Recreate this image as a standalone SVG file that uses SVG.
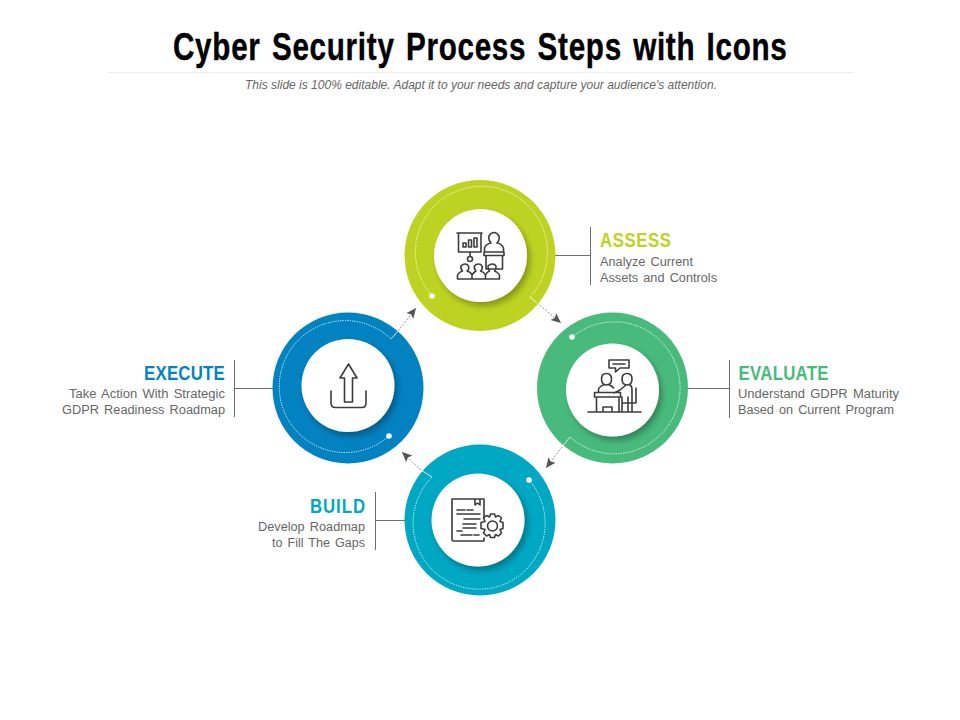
<svg xmlns="http://www.w3.org/2000/svg" width="960" height="720" viewBox="0 0 960 720">
<style>
text{font-family:"Liberation Sans",Arial,sans-serif}
.t{font-weight:700;font-size:38px;word-spacing:3px;stroke:#000;stroke-width:.4px}
.h{font-weight:700;font-size:21px}
.b{font-size:12px;fill:#666;word-spacing:1.5px}
.lead{stroke:#6d6d6d;stroke-width:1;fill:none}
.dot{fill:none;stroke:#fff;stroke-width:1;stroke-dasharray:1.2 1.2;opacity:.9}
.tick{fill:none;stroke:#fff;stroke-width:.8}
.arr{fill:none;stroke:#777;stroke-width:.8;stroke-dasharray:2 1.5;marker-end:url(#ah)}
.ic{fill:none;stroke:#3c3c3c;stroke-width:1.6;stroke-linejoin:round;stroke-linecap:round}
.inner{fill:#fff;filter:url(#sh)}
</style>
<defs>
<marker id="ah" markerUnits="userSpaceOnUse" markerWidth="12" markerHeight="10" refX="10" refY="4.5" orient="auto"><path d="M0 0L10 4.5L0 9L2 4.5Z" fill="#555"/></marker>
<filter id="sh" x="-30%" y="-30%" width="170%" height="170%"><feDropShadow dx="3" dy="4" stdDeviation="3" flood-color="#000" flood-opacity=".3"/></filter>
</defs>
<rect width="960" height="720" fill="#fff"/>
<g id="header">
<text class="t" transform="translate(173 60) scale(.78 1)" textLength="787" lengthAdjust="spacing" fill="#000">Cyber Security Process Steps with Icons</text>
<line x1="108" y1="72.500" x2="853" y2="72.500" stroke="#eee"/>
<text x="245" y="89" textLength="472" lengthAdjust="spacingAndGlyphs" font-size="12" font-style="italic" fill="#666">This slide is 100% editable. Adapt it to your needs and capture your audience's attention.</text>
</g>
<g id="connectors">
<path class="lead" d="M555 255.500H590.500M590.500 227V285"/>
<path class="lead" d="M688 388.500H729.500M729.500 360V418"/>
<path class="lead" d="M273 388.500H234.500M234.500 360V417"/>
<path class="lead" d="M405 520.500H375.500M375.500 492V550"/>
<path class="arr" d="M537 303L561 323"/>
<path class="arr" d="M562 447L546 468"/>
<path class="arr" d="M421 470L402 452"/>
<path class="arr" d="M398 331L416 308"/>
</g>
<g id="assess">
<circle cx="480" cy="255.500" r="75.500" fill="#bed321"/>
<circle class="inner" cx="480.500" cy="255.500" r="46.500"/>
<path class="dot" d="M432 296A66 66 0 1 1 530 297"/>
<path class="tick" d="M530 297L537 303"/>
<circle cx="432" cy="296" r="2.800" fill="#fff"/>
<path class="ic" d="M457 233H482M458.500 233V252H481V233M463 247V243H466V247ZM468.500 247V240H471.500V247ZM474 247V238H477V247ZM470 252V256"/>
<circle class="ic" cx="470" cy="259" r="2.500"/>
<path class="ic" d="M484.500 252V248Q486 244 491 243Q488 240 489 236Q491 232.500 494 232.500Q497 232.500 499 236Q500 240 497 243Q502 244 503.500 248V252M484 252H504V255.500H484ZM486 255.500H502.500V269H486Z"/>
<path class="ic" d="M457.500 279V275Q459 272 462.500 271Q460 268 461 266Q463 264 465 264Q467.500 264 468.500 266Q469.500 269 467 271Q471 272 472 275V279ZM472 279V275Q474 272 476 271Q473.500 268 474.500 266Q476 264 478.500 264Q481 264 482 266Q483 269 480.500 271Q484 272 485.500 275V279ZM485.500 279V275Q487 272 489.500 271Q487.500 268 488 266Q490 264 492.500 264Q495 264 496 266Q496.500 269 494.500 271Q498 272 499.500 275V279ZM457.500 279H499.500"/>
</g>
<g id="evaluate">
<circle cx="612.500" cy="388" r="75.500" fill="#48bb7c"/>
<circle class="inner" cx="612.500" cy="390" r="46.500"/>
<path class="dot" d="M572 337A66 66 0 1 1 570 437"/>
<path class="tick" d="M570 437L562 447"/>
<circle cx="572" cy="337" r="2.800" fill="#fff"/>
<path class="ic" d="M609 360H629V368H620L615.500 372V368H609ZM613 364H625"/>
<path class="ic" d="M601.500 379Q601.500 373.500 606.500 373.500Q611.500 373.500 611.500 379Q611.500 385 606.500 385Q601.500 385 601.500 379ZM598.500 392V389Q600 386 603.500 385M609.500 385Q612 386 613.500 388M622 379Q622 373.500 627 373.500Q632 373.500 632 379Q632 385 627 385Q622 385 622 379ZM614 393L620 390L626 385M630 385Q632 386 632 390V412M594.500 392.500H620.500V397H594.500ZM596.500 397V411M619 397V411M603 411V407H612V411M622 397V411M628 397V411M622 403H636V388M588 412H641"/>
</g>
<g id="build">
<circle cx="480" cy="520" r="75.500" fill="#00a8c4"/>
<circle class="inner" cx="478" cy="520" r="46.500"/>
<path class="dot" d="M529 480A66 66 0 1 1 432 477"/>
<path class="tick" d="M432 477L421 470"/>
<circle cx="529" cy="480" r="2.800" fill="#fff"/>
<path class="ic" d="M484 518V499H452V539.500Q452 541 453.500 541H484V538M475 499V505L477.500 503L480 505V499"/>
<path class="ic" d="M457 510H465M467 510H473M457 514H480M464 519H480M463 524H476M463 528H476M457 531H462M461 535H472M474 535H479" stroke-width="1.700"/>
<circle class="ic" cx="492.500" cy="526" r="5"/>
<path class="ic" d="M490.500 514H494.500L495.500 517L498.500 515.500L501.500 518L500 521.500L503 522.500V528.500L500 529.500L501.500 533L498.500 536L495.500 534.500L494.500 537.500H490.500L489.500 534.500L486.500 536L483.500 533L485 529.500L481 528.500V522.500L485 521.500L483.500 518L486.500 515.500L489.500 517Z"/>
</g>
<g id="execute">
<circle cx="348" cy="388" r="75.500" fill="#0382c2"/>
<circle class="inner" cx="348" cy="385.500" r="46.500"/>
<path class="dot" d="M389 436A66 66 0 1 1 391 339"/>
<path class="tick" d="M391 339L398 331"/>
<circle cx="389" cy="436" r="2.800" fill="#fff"/>
<path class="ic" d="M348.500 364L340 378H344.500V402H352.500V378H357ZM331 391V403Q331 407.500 335.500 407.500H362Q366 407.500 366 403V391"/>
</g>
<g id="label-assess">
<text class="h" transform="translate(600 247) scale(.8 1)" textLength="88.800" lengthAdjust="spacing" fill="#bed321">ASSESS</text>
<text class="b" x="600" y="266" textLength="93" lengthAdjust="spacingAndGlyphs">Analyze Current</text>
<text class="b" x="600" y="282" textLength="117" lengthAdjust="spacingAndGlyphs">Assets and Controls</text>
</g>
<g id="label-evaluate">
<text class="h" transform="translate(738.500 380) scale(.8 1)" textLength="112.500" lengthAdjust="spacing" fill="#48bb7c">EVALUATE</text>
<text class="b" x="738" y="398" textLength="161" lengthAdjust="spacingAndGlyphs">Understand GDPR Maturity</text>
<text class="b" x="738" y="414" textLength="156" lengthAdjust="spacingAndGlyphs">Based on Current Program</text>
</g>
<g id="label-build">
<text class="h" transform="translate(310 513) scale(.8 1)" textLength="68.800" lengthAdjust="spacing" fill="#00a8c4">BUILD</text>
<text class="b" x="258" y="531" textLength="107" lengthAdjust="spacingAndGlyphs">Develop Roadmap</text>
<text class="b" x="272" y="547" textLength="93" lengthAdjust="spacingAndGlyphs">to Fill The Gaps</text>
</g>
<g id="label-execute">
<text class="h" transform="translate(144 380) scale(.8 1)" textLength="101" lengthAdjust="spacing" fill="#0382c2">EXECUTE</text>
<text class="b" x="69" y="398" textLength="156" lengthAdjust="spacingAndGlyphs">Take Action With Strategic</text>
<text class="b" x="62" y="414" textLength="163" lengthAdjust="spacingAndGlyphs">GDPR Readiness Roadmap</text>
</g>
</svg>
